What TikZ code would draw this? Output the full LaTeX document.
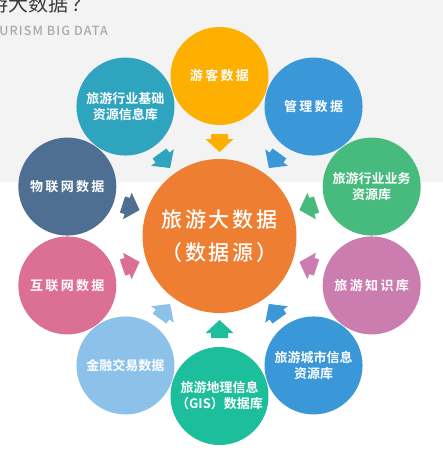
\documentclass[tikz,border=0pt]{standalone}
\usepackage{fontspec}
\usetikzlibrary{positioning, calc}

\newfontfamily\cjk[BoldFont={Noto Sans CJK SC Bold}]{Noto Sans CJK SC}
\newfontfamily\cjkwide[LetterSpace=18, BoldFont={Noto Sans CJK SC Bold}]{Noto Sans CJK SC}
\newfontfamily\cjkhub[LetterSpace=14]{Noto Sans CJK SC Medium}
\newfontfamily\subfont[LetterSpace=9]{Noto Sans CJK SC Medium}

\definecolor{bggray}{HTML}{F3F3F3}
\definecolor{titlegray}{HTML}{3A3A3A}
\definecolor{subgray}{HTML}{A9A9A9}
\definecolor{cOrange}{HTML}{EE7E32}
\definecolor{cYellow}{HTML}{FDB002}
\definecolor{cBlue}{HTML}{3A98D9}
\definecolor{cTeal}{HTML}{2EA4BF}
\definecolor{cSlate}{HTML}{4F6F92}
\definecolor{cGreen}{HTML}{47BA7D}
\definecolor{cRose}{HTML}{DC6F94}
\definecolor{cOrchid}{HTML}{CB7DB0}
\definecolor{cSky}{HTML}{8CC2E9}
\definecolor{cJade}{HTML}{1DBE9C}

\tikzset{
  bubble/.style={circle, minimum size=98pt, inner sep=0pt, text=white, align=center,
    font=\fontsize{13}{16}\selectfont\cjk\bfseries},
  widebubble/.style={bubble, font=\fontsize{13}{16}\selectfont\cjkwide\bfseries},
  hub/.style={circle, fill=cOrange, minimum size=154pt, inner sep=0pt, text=white,
    align=center, font=\fontsize{21}{33}\selectfont\cjkhub},
}

% block arrow, pointing from an outer bubble to the hub
\newcommand{\feedarrow}[2]{%
  \fill[#2, shift={(src.center)}, rotate=#1]
    (102,8.5) -- (97,8.5) -- (97,14) -- (84,0) -- (97,-14) -- (97,-8.5) -- (102,-8.5) -- cycle;
}

\begin{document}
\begin{tikzpicture}[x=1pt, y=1pt]
      \useasboundingbox (0,0) rectangle (443,-474);
      \fill[bggray] (0,0) rectangle (443,-182);   %header band

      \node[anchor=base west, inner sep=0pt, text=titlegray,
            font=\fontsize{20}{20}\selectfont\cjk] (title) at (-32,-11) {旅游大数据\kern3pt？};
      \node[anchor=base east, inner sep=0pt, text=subgray,
            font=\fontsize{12.5}{12.5}\selectfont\subfont] (subtitle) at (108,-35) {TOURISM BIG DATA};

      \coordinate (o) at (219.5,-236);
      \node[hub] (src) at (o) {旅游大数据\\（数据源）};

      \node[widebubble, fill=cYellow] (youke)   at ($ (o) + (90:160) $)   {游客数据};
      \node[widebubble, fill=cBlue]   (guanli)  at ($ (o) + (54:160) $)   {管理数据};
      \node[bubble,     fill=cGreen]  (yewu)    at ($ (o) + (18:160) $)   {旅游行业业务\\资源库};
      \node[widebubble, fill=cOrchid] (zhishi)  at ($ (o) + (-18:160) $)  {旅游知识库};
      \node[bubble,     fill=cBlue]   (chengshi) at ($ (o) + (-54:160) $) {旅游城市信息\\资源库};
      \node[bubble,     fill=cJade]   (dili)    at ($ (o) + (-90:160) $)  {旅游地理信息\\（GIS）数据库};
      \node[bubble,     fill=cSky]    (jinrong) at ($ (o) + (-126:160) $) {金融交易数据};
      \node[widebubble, fill=cRose]   (hulian)  at ($ (o) + (-162:160) $) {互联网数据};
      \node[widebubble, fill=cSlate]  (wulian)  at ($ (o) + (162:160) $)  {物联网数据};
      \node[bubble,     fill=cTeal]   (jichu)   at ($ (o) + (126:160) $)  {旅游行业基础\\资源信息库};

      \feedarrow{90}{cYellow}
      \feedarrow{54}{cBlue}
      \feedarrow{18}{cGreen}
      \feedarrow{-18}{cOrchid}
      \feedarrow{-54}{cBlue}
      \feedarrow{-90}{cJade}
      \feedarrow{-126}{cSky}
      \feedarrow{-162}{cRose}
      \feedarrow{162}{cSlate}
      \feedarrow{126}{cTeal}
    \end{tikzpicture}
\end{document}
